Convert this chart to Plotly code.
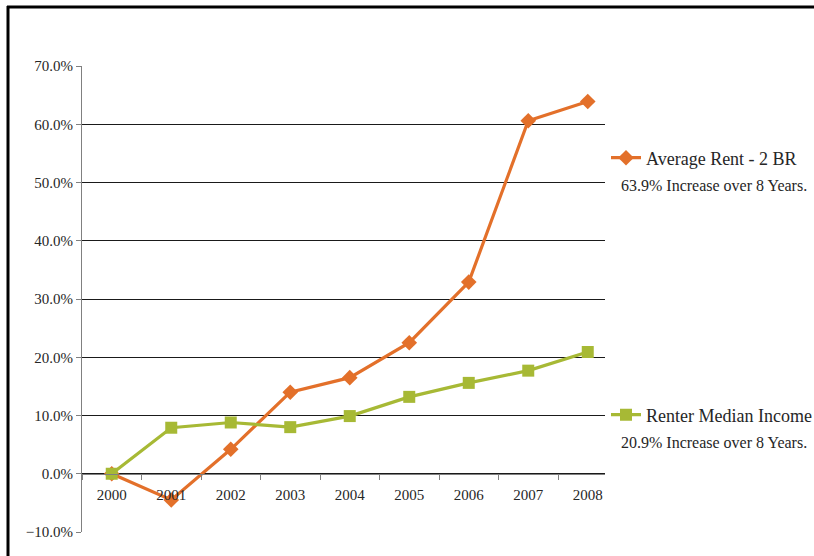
import plotly.graph_objects as go

years = ["2000", "2001", "2002", "2003", "2004", "2005", "2006", "2007", "2008"]
rent_2br = [0.0, -4.5, 4.2, 14.0, 16.5, 22.5, 32.9, 60.6, 63.9]
renter_income = [0.0, 7.9, 8.8, 8.0, 9.9, 13.2, 15.6, 17.7, 20.9]
rent_name = "Average Rent - 2 BR"
income_name = "Renter Median Income"
rent_note = "63.9% Increase over 8 Years."
income_note = "20.9% Increase over 8 Years."

ORANGE = "#E3702A"
GREEN = "#A7B935"
FONT = "Liberation Serif, DejaVu Serif, serif"
TXT = "#262626"

fig = go.Figure()
fig.add_trace(go.Scatter(
    x=years, y=rent_2br, name=rent_name, mode="lines+markers",
    line=dict(color=ORANGE, width=3.2),
    marker=dict(symbol="diamond", size=12, color=ORANGE),
    legend="legend",
))
fig.add_trace(go.Scatter(
    x=years, y=renter_income, name=income_name, mode="lines+markers",
    line=dict(color=GREEN, width=3.2),
    marker=dict(symbol="square", size=12, color=GREEN),
    legend="legend2",
))

W, H = 814, 556
L, R, T, B = 82, 605, 66, 532
pw, ph = R - L, B - T

def px(x):
    return (x - L) / pw

def py(y):
    return (B - y) / ph

fig.update_layout(
    width=W, height=H, autosize=False,
    margin=dict(l=L, r=W - R, t=T, b=H - B, autoexpand=False),
    paper_bgcolor="white", plot_bgcolor="white",
    font=dict(family=FONT, size=15, color=TXT),
    xaxis=dict(
        type="category", range=[-0.5, 8.29],
        anchor="free", position=0.125,
        showline=True, linecolor="#808080", linewidth=1,
        ticks="outside", tickson="boundaries", ticklen=5, tickcolor="#808080",
        ticklabelstandoff=7,
        showgrid=False, zeroline=False,
        tickfont=dict(family=FONT, size=15, color=TXT),
    ),
    yaxis=dict(
        range=[-10, 70], dtick=10, tick0=0,
        tickformat=".1f", ticksuffix="%",
        showline=True, linecolor="#808080", linewidth=1,
        ticks="outside", ticklen=5, tickcolor="#808080",
        showgrid=True, gridcolor="#1a1a1a", gridwidth=1,
        zeroline=False,
        tickfont=dict(family=FONT, size=15, color=TXT),
    ),
    legend=dict(
        x=px(606), y=py(158), xanchor="left", yanchor="middle",
        font=dict(family=FONT, size=18, color=TXT),
        bgcolor="rgba(0,0,0,0)", itemwidth=30,
    ),
    legend2=dict(
        x=px(606), y=py(415), xanchor="left", yanchor="middle",
        font=dict(family=FONT, size=18, color=TXT),
        bgcolor="rgba(0,0,0,0)", itemwidth=30,
    ),
    showlegend=True,
)

fig.add_annotation(text=rent_note, xref="paper", yref="paper",
                   x=px(619), y=py(185), xanchor="left", yanchor="middle",
                   showarrow=False, font=dict(family=FONT, size=16, color=TXT))
fig.add_annotation(text=income_note, xref="paper", yref="paper",
                   x=px(619), y=py(442), xanchor="left", yanchor="middle",
                   showarrow=False, font=dict(family=FONT, size=16, color=TXT))

# outer frame (left and top edges)
fig.add_shape(type="line", xref="paper", yref="paper",
              x0=px(8), x1=px(8), y0=py(560), y1=py(6),
              line=dict(color="black", width=3))
fig.add_shape(type="line", xref="paper", yref="paper",
              x0=px(7), x1=px(814), y0=py(7), y1=py(7),
              line=dict(color="black", width=3))

post = (
    "document.documentElement.style.margin='0';"
    "document.documentElement.style.overflow='hidden';"
    "document.body.style.margin='0';"
    "document.body.style.padding='0';"
    "document.body.style.overflow='hidden';"
    "var gd=document.getElementById('{plot_id}');"
    "Plotly.relayout(gd,{width:814,height:556});"
)

fig.write_html("out.html", config={"responsive": False, "displayModeBar": False},
               post_script=post)
